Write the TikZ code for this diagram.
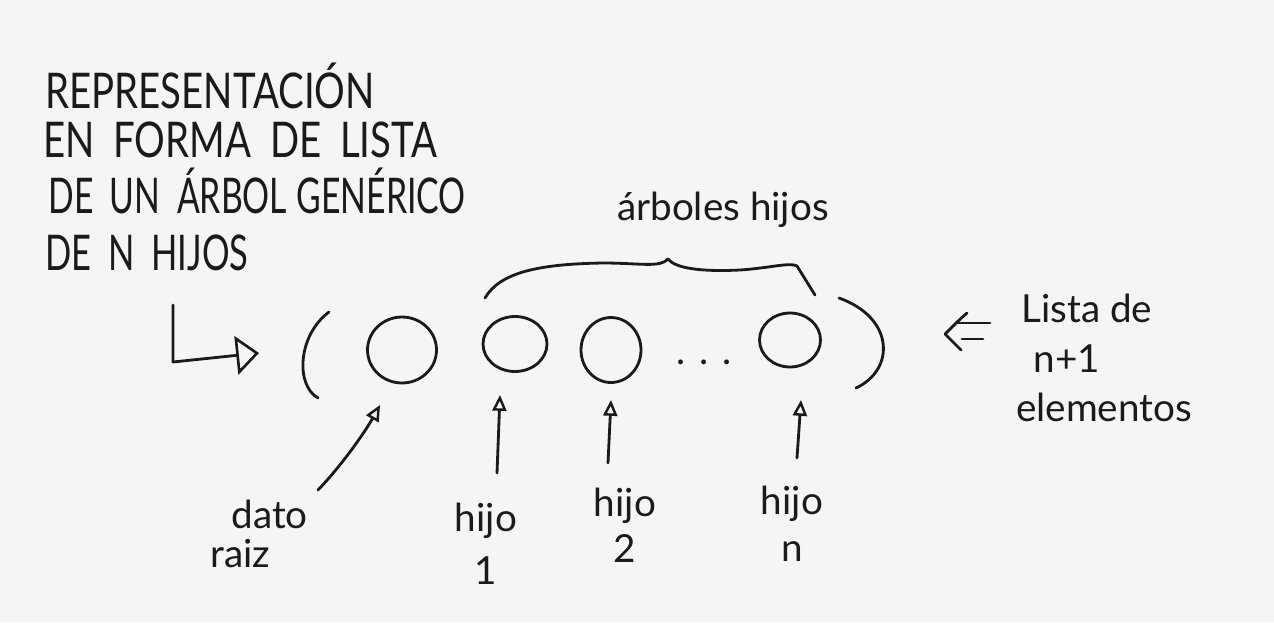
\documentclass[tikz,border=0pt]{standalone}
\usepackage{fontspec}
\usepackage{graphicx}
\setmainfont{Lato}
\newfontfamily\handcaps[FakeStretch=0.78,WordSpace=1.9]{Lato}
\usetikzlibrary{arrows.meta,shapes.geometric}
\definecolor{ink}{HTML}{1A1A1A}
\definecolor{paper}{HTML}{F5F5F3}
\tikzset{
  every path/.style={line cap=round,line join=round},
  pen/.style={draw=ink,line width=1.6pt},
  bubble/.style={ellipse,draw=ink,line width=1.6pt,inner sep=0pt},
  titleline/.style={anchor=base west,inner sep=0pt,text=ink,font=\handcaps\fontsize{28}{30}\selectfont},
  hand/.style={inner sep=0pt,text=ink,font=\fontsize{22}{26}\selectfont},
  smalltip/.style={-{Triangle[open,length=9pt,width=8pt,line width=1.4pt]}},
}
\begin{document}
\begin{tikzpicture}[x=0.02cm,y=-0.02cm]
\fill[paper] (0,0) rectangle (1274,622);
\useasboundingbox (0,0) rectangle (1274,622);

% title
\node[titleline] (t1) at (45,108) {REPRESENTACIÓN};
\node[titleline] (t2) at (43,157) {EN FORMA DE LISTA};
\node[titleline] (t3) at (48,213) {\scalebox{0.88}[1]{DE UN ÁRBOL\hspace{6pt}GENÉRICO}};
\node[titleline] (t4) at (45,270) {\scalebox{0.9}[1]{DE N HIJOS}};

% list elements
\node[bubble,minimum width=1.38cm,minimum height=1.32cm] (root) at (402,350) {};
\node[bubble,minimum width=1.28cm,minimum height=1.10cm] (c1) at (515,344) {};
\node[bubble,minimum width=1.20cm,minimum height=1.30cm] (c2) at (611,350) {};
\node[hand,anchor=base] (dots) at (704,364) {.\hspace{8pt}.\hspace{8pt}.};
\node[bubble,minimum width=1.22cm,minimum height=1.08cm] (cn) at (790,340) {};

% parentheses
\draw[pen] (329,312) .. controls (298,335) and (295,385) .. (318,398);
\draw[pen] (839,298) .. controls (895,318) and (895,370) .. (856,388);

% brace and its label
\draw[pen] (485,298) .. controls (500,272) and (540,264) .. (603,263)
  .. controls (640,263) and (660,268) .. (668,259)
  .. controls (675,268) and (700,272) .. (740,270)
  .. controls (770,268) and (790,262) .. (797,266) -- (815,295);
\node[hand,anchor=base] (arb) at (723,220) {árboles hijos};

% hook arrow from title
\coordinate (hookA) at (173,305);
\coordinate (hookB) at (173,362);
\coordinate (hookC) at (259,353);
\draw[pen,-{Triangle[open,length=13pt,width=22pt,line width=1.5pt]}] (hookA) -- (hookB) -- (hookC);

% right label and double arrow
\node[hand,anchor=north west,align=left,font=\fontsize{22}{28.5}\selectfont] (lista) at (1021,294)
  {Lista de\\\hspace{7pt}n+1\\[-1pt]\hspace{-3pt}elementos};
\coordinate (impT1) at (990,323);
\coordinate (impT0) at (958,323);
\coordinate (impB1) at (983,339);
\coordinate (impB0) at (962,339);
\coordinate (impU) at (967,313);
\coordinate (impTip) at (945,334);
\coordinate (impD) at (961,350);
\draw[pen] (impT1) -- (impT0);
\draw[pen] (impB1) -- (impB0);
\draw[pen] (impU) .. controls (957,322) .. (impTip) .. controls (952,341) .. (impD);

% bottom labels
\node[hand,anchor=north west,align=left,font=\fontsize{22}{22}\selectfont] (dato) at (210,500) {\hspace{12pt}dato\\raiz};
\node[hand,anchor=north,align=center,font=\fontsize{22}{30}\selectfont] (h1) at (486,503) {hijo\\1};
\node[hand,anchor=north,align=center,font=\fontsize{22}{26}\selectfont] (h2) at (625,488) {hijo\\2};
\node[hand,anchor=north,align=center,font=\fontsize{22}{26.5}\selectfont] (hn) at (792,486) {hijo\\n};

% arrows from labels
\coordinate (datoA) at (318,490);
\coordinate (datoB) at (380,405);
\draw[pen,smalltip] (datoA) .. controls (342,465) and (365,432) .. (datoB);
\coordinate (h1A) at (497,473);
\coordinate (h1B) at (500,395);
\draw[pen,smalltip] (h1A) -- (h1B);
\coordinate (h2A) at (608,463);
\coordinate (h2B) at (611,400);
\draw[pen,smalltip] (h2A) -- (h2B);
\coordinate (hnA) at (797,458);
\coordinate (hnB) at (801,400);
\draw[pen,smalltip] (hnA) -- (hnB);
\end{tikzpicture}
\end{document}
